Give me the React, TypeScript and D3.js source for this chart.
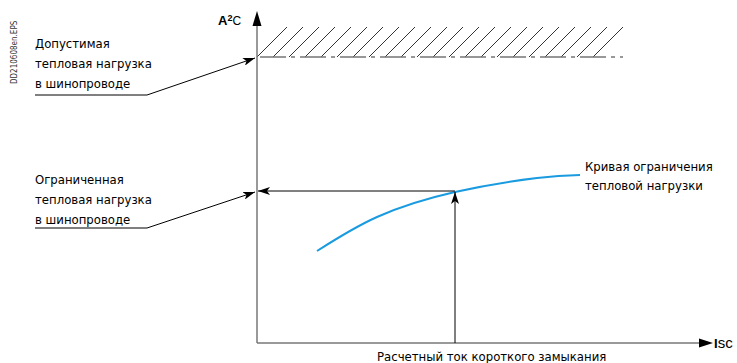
import React from "react";
import * as d3 from "d3";

// Data (in axis units: x = short-circuit current, y = thermal stress A²s)
const curveX = [60, 120, 198, 280, 323];
const curveY = [92, 126, 151, 165, 168];
const permissibleLimit = 286;
const designCurrent = 198;
const limitedStress = 152;
const hatchCount = 22;
const hatchEnd = 336;

const labelPermissible = ["Допустимая", "тепловая нагрузка", "в шинопроводе"];
const labelLimited = ["Ограниченная", "тепловая нагрузка", "в шинопроводе"];
const labelCurve = ["Кривая ограничения", "тепловой нагрузки"];
const labelX = "Расчетный ток короткого замыкания";
const docId = "DD210608en.EPS";

const W = 737;
const H = 363;
const FONT = "'Liberation Sans Narrow', 'DejaVu Sans Condensed', 'Liberation Sans', sans-serif";

export default function App() {
  const x = d3.scaleLinear().domain([0, 456]).range([257, 713]);
  const y = d3.scaleLinear().domain([0, 332]).range([343, 11]);
  const pts = curveX.map((v, i) => [x(v), y(curveY[i])] as [number, number]);
  const line = d3.line().curve(d3.curveNatural);
  const curvePath = line(pts) || "";

  const yLim = y(permissibleLimit);
  const hatchStep = (x(hatchEnd) - x(0)) / (hatchCount - 1);
  const hatches = d3.range(hatchCount).map((i) => x(0) + i * hatchStep);

  const yLimited = y(limitedStress);
  const xDesign = x(designCurrent);
  const x0 = x(0);
  const yTop = y(332);
  const xEnd = x(456);
  const yBase = y(0);

  const leader = (lineY: number, underY: number) =>
    `M35,${underY} L147,${underY} L${x0 - 2},${lineY + 1}`;

  return (
    <svg width={W} height={H} style={{ position: "absolute", left: 0, top: 0, background: "#fff" }}>
      <defs>
        <marker id="ah" viewBox="0 0 12 8" refX="12" refY="4" markerWidth="12" markerHeight="8"
          markerUnits="userSpaceOnUse" orient="auto">
          <path d="M0,0 L12,4 L0,8 L3,4 Z" fill="#000" />
        </marker>
      </defs>
      {/* doc id */}
      <text transform="translate(17,84) rotate(-90)" fontFamily={FONT} fontSize={8} fill="#333">
        {docId}
      </text>

      {/* hatch area */}
      {hatches.map((hx, i) => (
        <line key={i} x1={hx} y1={yLim} x2={hx + 30} y2={yLim - 30} stroke="#000" strokeWidth={0.8} />
      ))}
      <line x1={x0} y1={yLim} x2={x(hatchEnd) + 30} y2={yLim} stroke="#777" strokeWidth={1.5}
        strokeDasharray="26,5,4,5" strokeDashoffset={-3} />

      {/* axes */}
      <line x1={x0} y1={yBase} x2={x0} y2={yTop + 10} stroke="#777" strokeWidth={1.5} />
      <path d={`M${x0},${yTop} L${x0 - 4.5},${yTop + 15} L${x0 + 4.5},${yTop + 15} Z`} fill="#000" />
      <line x1={x0} y1={yBase} x2={xEnd - 10} y2={yBase} stroke="#777" strokeWidth={1.5} />
      <path d={`M${xEnd},${yBase} L${xEnd - 14},${yBase - 4.5} L${xEnd - 14},${yBase + 4.5} Z`} fill="#000" />

      {/* axis labels */}
      <text x={218} y={25} fontFamily="'Liberation Sans', Arial, sans-serif" fontSize={13} fontWeight="bold" fill="#000">
        A<tspan fontSize={9} dy={-4}>2</tspan><tspan dy={4} fontWeight="normal" fontSize={12}>C</tspan>
      </text>
      <text x={714} y={348} fontFamily="'Liberation Sans', Arial, sans-serif" fontSize={14} fill="#000">
        <tspan fontWeight="bold" fontSize={13}>I</tspan><tspan fontSize={15}>sc</tspan>
      </text>

      {/* blue curve */}
      <path d={curvePath} fill="none" stroke="#1a9be0" strokeWidth={2} />

      {/* projection arrows */}
      <line x1={xDesign} y1={yLimited} x2={x0 + 1} y2={yLimited} stroke="#000" strokeWidth={1} markerEnd="url(#ah)" />
      <line x1={xDesign} y1={yBase} x2={xDesign} y2={yLimited + 1} stroke="#000" strokeWidth={1} markerEnd="url(#ah)" />

      {/* leaders */}
      <path d={leader(yLim, 95)} fill="none" stroke="#000" strokeWidth={1} markerEnd="url(#ah)" />
      <path d={leader(yLimited, 228)} fill="none" stroke="#000" strokeWidth={1} markerEnd="url(#ah)" />

      {/* labels */}
      <g fontFamily={FONT} fontSize={13} fill="#000">
        {labelPermissible.map((t, i) => (
          <text key={i} x={35} y={48 + i * 20}>{t}</text>
        ))}
        {labelLimited.map((t, i) => (
          <text key={i} x={35} y={184 + i * 20}>{t}</text>
        ))}
        {labelCurve.map((t, i) => (
          <text key={i} x={585} y={171 + i * 19}>{t}</text>
        ))}
        <text x={377} y={361}>{labelX}</text>
      </g>
    </svg>
  );
}
